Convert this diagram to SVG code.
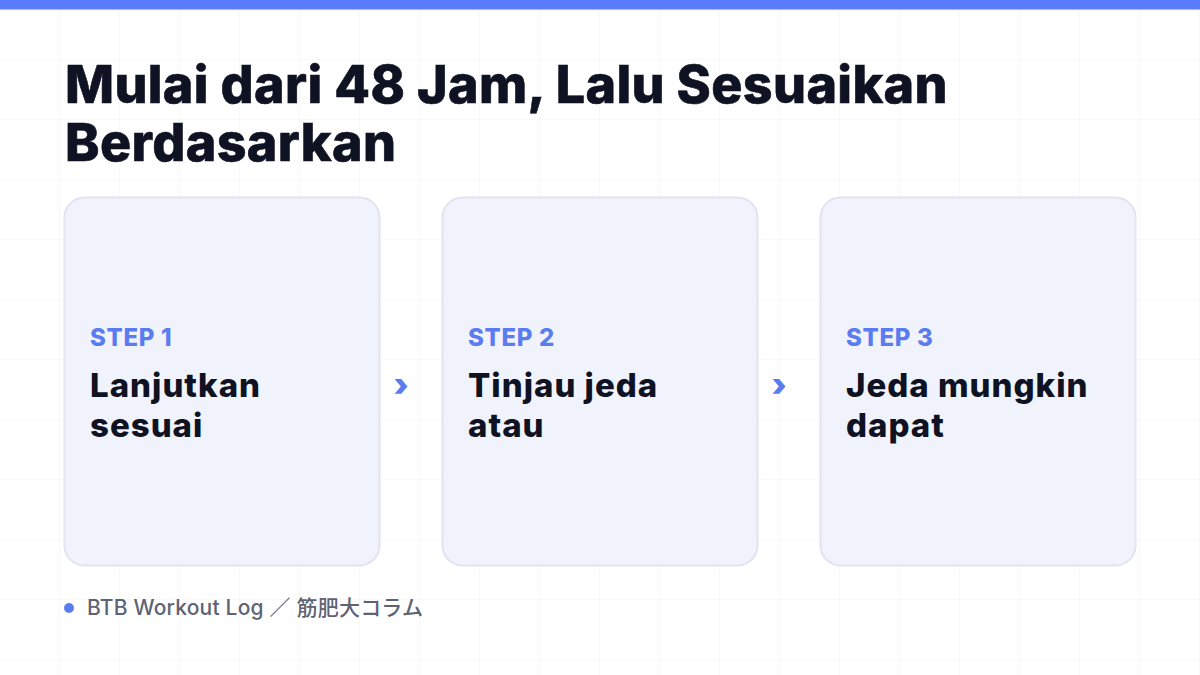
<svg xmlns="http://www.w3.org/2000/svg" width="1200" height="675" viewBox="0 0 1200 675">
<defs>
<pattern id="grid" width="60" height="60" patternUnits="userSpaceOnUse">
<path d="M60 0V60M0 60H60" fill="none" stroke="#f0f1f5" stroke-width="1"/>
</pattern>
</defs>
<style>
.title{font-family:Inter,"Liberation Sans",sans-serif;font-weight:800;font-size:52px;fill:#0f1222;stroke:#0f1222;stroke-width:0.6px;letter-spacing:0.35px}
.card{fill:#f1f3fc;stroke:#e1e4f0;stroke-width:2}
.step{font-family:Inter,"Liberation Sans",sans-serif;font-weight:800;font-size:24px;fill:#5b7cf0;letter-spacing:0.7px}
.label{font-family:Inter,"Liberation Sans",sans-serif;font-weight:800;font-size:33px;fill:#0f1222;letter-spacing:1px}
.chev{font-family:Inter,"Liberation Sans",sans-serif;font-weight:900;font-size:32px;fill:#5b7cf0}
.foot{font-family:Inter,"Liberation Sans","Noto Sans CJK JP",sans-serif;font-weight:500;font-size:21px;fill:#5d6375;letter-spacing:0.2px}
</style>
<rect width="1200" height="675" fill="#ffffff"/>
<rect width="1200" height="675" fill="url(#grid)"/>
<rect x="0" y="0" width="1200" height="9.5" fill="#5b7cfa"/>
<g id="title">
<text class="title" x="65" y="103">Mulai dari 48 Jam, Lalu Sesuaikan</text>
<text class="title" x="65" y="161">Berdasarkan</text>
</g>
<g id="step1">
<rect class="card" x="64.5" y="197.5" width="315" height="368" rx="20"/>
<text class="step" x="90" y="346">STEP 1</text>
<text class="label" x="90" y="397">Lanjutkan</text>
<text class="label" x="90" y="437">sesuai</text>
</g>
<g id="step2">
<rect class="card" x="442.5" y="197.5" width="315" height="368" rx="20"/>
<text class="step" x="468" y="346">STEP 2</text>
<text class="label" x="468" y="397">Tinjau jeda</text>
<text class="label" x="468" y="437">atau</text>
</g>
<g id="step3">
<rect class="card" x="820.5" y="197.5" width="315" height="368" rx="20"/>
<text class="step" x="846" y="346">STEP 3</text>
<text class="label" x="846" y="397">Jeda mungkin</text>
<text class="label" x="846" y="437">dapat</text>
</g>
<g id="connectors">
<text class="chev" x="401" y="396" text-anchor="middle">›</text>
<text class="chev" x="779" y="396" text-anchor="middle">›</text>
</g>
<g id="footer">
<circle cx="69" cy="608" r="5" fill="#5b7cf0"/>
<text class="foot" x="87" y="615">BTB Workout Log ／ 筋肥大コラム</text>
</g>
</svg>
